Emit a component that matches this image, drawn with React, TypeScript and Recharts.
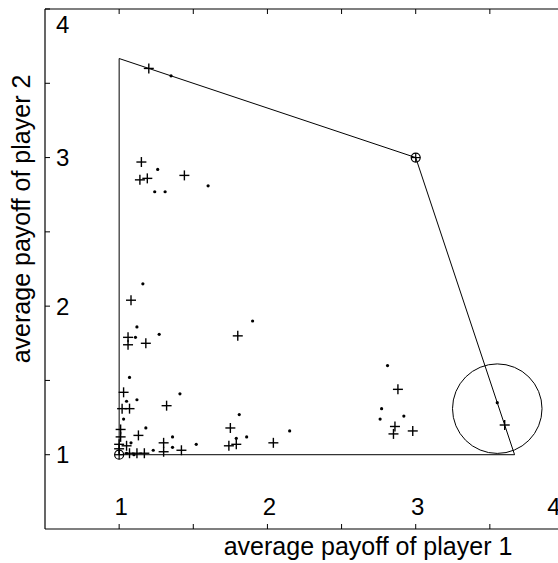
import { ReferenceDot, Scatter, ScatterChart, XAxis, YAxis } from "recharts";

const xTicks = [1, 1.5, 2, 2.5, 3, 3.5, 4];
const yTicks = [1, 1.5, 2, 2.5, 3, 3.5, 4];

// feasible payoff region (convex hull of pure outcomes)
const hullVertices = [
  [1, 1],
  [1, 11 / 3],
  [3, 3],
  [11 / 3, 1],
  [1, 1],
];

// pure equilibria, drawn as circled crosses
const equilibria = [
  [1, 1],
  [3, 3],
];

const dotPoints = [
  [1.35, 3.55], [1.26, 2.92], [1.24, 2.77], [1.31, 2.77], [1.6, 2.81],
  [1.16, 2.15], [1.12, 1.86], [1.9, 1.9], [1.27, 1.81], [1.11, 1.79],
  [1.07, 1.52], [1.41, 1.41], [1.05, 1.36], [1.12, 1.37], [1.03, 1.24],
  [1.18, 1.18], [1.08, 1.08], [1.36, 1.12], [1.52, 1.07], [1.36, 1.05],
  [1.23, 1.03], [1.1, 1.0], [1.05, 1.01], [1.79, 1.11], [1.81, 1.27],
  [1.86, 1.12], [2.15, 1.16], [2.81, 1.6], [2.77, 1.31], [2.76, 1.24],
  [2.92, 1.26], [3.55, 1.35],
];

const plusPoints = [
  [1.2, 3.6], [1.15, 2.97], [1.14, 2.85], [1.19, 2.86], [1.44, 2.88],
  [1.08, 2.04], [1.06, 1.79], [1.06, 1.74], [1.18, 1.75], [1.8, 1.8],
  [1.03, 1.42], [1.32, 1.33], [1.02, 1.31], [1.07, 1.31], [1.01, 1.17],
  [1.13, 1.13], [1.01, 1.12], [1.0, 1.07], [1.05, 1.06], [1.3, 1.08],
  [1.42, 1.03], [1.3, 1.02], [1.17, 1.01], [1.12, 1.01], [1.07, 1.01],
  [1.0, 1.04], [1.74, 1.06], [1.79, 1.07], [1.75, 1.18], [2.04, 1.08],
  [2.88, 1.44], [2.86, 1.19], [2.85, 1.14], [2.98, 1.16], [3.6, 1.2],
];

const circleCenter = [3.55, 1.31];
const circleRadius = 0.303;

const X_DOMAIN: [number, number] = [0.5, 4];
const Y_DOMAIN: [number, number] = [0.5, 4];
const CHART_W = 600;
const CHART_H = 563;
const MARGIN = { top: 9, right: 36, bottom: 34, left: 45 };
const PLOT_BOTTOM = 528;
const PLOT_LEFT = 46;
const PX_PER_UNIT = (CHART_W - MARGIN.left - MARGIN.right - 2) / (X_DOMAIN[1] - X_DOMAIN[0]);
const FONT = "'Liberation Sans', Arial, Helvetica, sans-serif";

const toXY = (pts: number[][]) => pts.map(([x, y]) => ({ x, y }));

function XTickLabel(props: any) {
  const v = props.payload.value;
  if (!Number.isInteger(v)) return <g />;
  const x = props.payload.coordinate + (v === X_DOMAIN[1] ? -10 : 2);
  return (
    <text x={x} y={PLOT_BOTTOM - 13} textAnchor="middle" fontSize={24} fontFamily={FONT} fill="#000">
      {v}
    </text>
  );
}

function YTickLabel(props: any) {
  const v = props.payload.value;
  if (!Number.isInteger(v)) return <g />;
  const y = props.payload.coordinate + (v === Y_DOMAIN[1] ? 16 : 0);
  return (
    <text x={PLOT_LEFT + 10} y={y} dy="0.35em" textAnchor="start" fontSize={24} fontFamily={FONT} fill="#000">
      {v}
    </text>
  );
}

const renderDot = (p: any) => <circle cx={p.cx} cy={p.cy} r={1.6} fill="#000" />;

const renderPlus = (p: any) => (
  <g stroke="#000" strokeWidth={1.4}>
    <line x1={p.cx - 5} y1={p.cy} x2={p.cx + 5} y2={p.cy} />
    <line x1={p.cx} y1={p.cy - 5} x2={p.cx} y2={p.cy + 5} />
  </g>
);

const renderCircledPlus = (p: any) => (
  <g stroke="#000" strokeWidth={1.2} fill="none">
    <circle cx={p.cx} cy={p.cy} r={4.5} />
    <line x1={p.cx - 4.5} y1={p.cy} x2={p.cx + 4.5} y2={p.cy} />
    <line x1={p.cx} y1={p.cy - 4.5} x2={p.cx} y2={p.cy + 4.5} />
  </g>
);

const emptyTick = () => <g />;

const axisCommon = {
  type: "number" as const,
  allowDataOverflow: true,
  mirror: true,
  tickSize: 5,
  axisLine: { stroke: "#000", strokeWidth: 1.2 },
  tickLine: { stroke: "#000", strokeWidth: 1 },
};

export default function App() {
  return (
    <div style={{ position: "fixed", left: 0, top: 0, width: 558, height: 563, overflow: "hidden", background: "#fff" }}>
      <ScatterChart width={CHART_W} height={CHART_H} margin={MARGIN}>
        <XAxis {...axisCommon} dataKey="x" domain={X_DOMAIN} ticks={xTicks} height={1} tick={XTickLabel} />
        <XAxis {...axisCommon} xAxisId="top" orientation="top" dataKey="x" domain={X_DOMAIN} ticks={xTicks} height={1} tick={emptyTick} />
        <YAxis {...axisCommon} dataKey="y" domain={Y_DOMAIN} ticks={yTicks} width={1} tick={YTickLabel} />
        <YAxis {...axisCommon} yAxisId="right" orientation="right" dataKey="y" domain={Y_DOMAIN} ticks={yTicks} width={1} tick={emptyTick} />
        <Scatter
          data={toXY(hullVertices)}
          xAxisId="top"
          yAxisId="right"
          line={{ stroke: "#000", strokeWidth: 1 }}
          lineType="joint"
          shape={emptyTick}
          isAnimationActive={false}
        />
        <Scatter data={toXY(dotPoints)} shape={renderDot} isAnimationActive={false} />
        <Scatter data={toXY(plusPoints)} shape={renderPlus} isAnimationActive={false} />
        <Scatter data={toXY(equilibria)} shape={renderCircledPlus} isAnimationActive={false} />
        <ReferenceDot
          x={circleCenter[0]}
          y={circleCenter[1]}
          r={circleRadius * PX_PER_UNIT}
          fill="none"
          stroke="#000"
          strokeWidth={1}
        />
      </ScatterChart>
      <svg width={558} height={563} style={{ position: "absolute", left: 0, top: 0, pointerEvents: "none" }}>
        <text x={368} y={555} textAnchor="middle" fontSize={25} fontFamily={FONT} fill="#000">
          average payoff of player 1
        </text>
        <text
          x={21}
          y={219}
          textAnchor="middle"
          dominantBaseline="central"
          fontSize={25}
          fontFamily={FONT}
          fill="#000"
          transform="rotate(-90 21 219)"
        >
          average payoff of player 2
        </text>
      </svg>
    </div>
  );
}
